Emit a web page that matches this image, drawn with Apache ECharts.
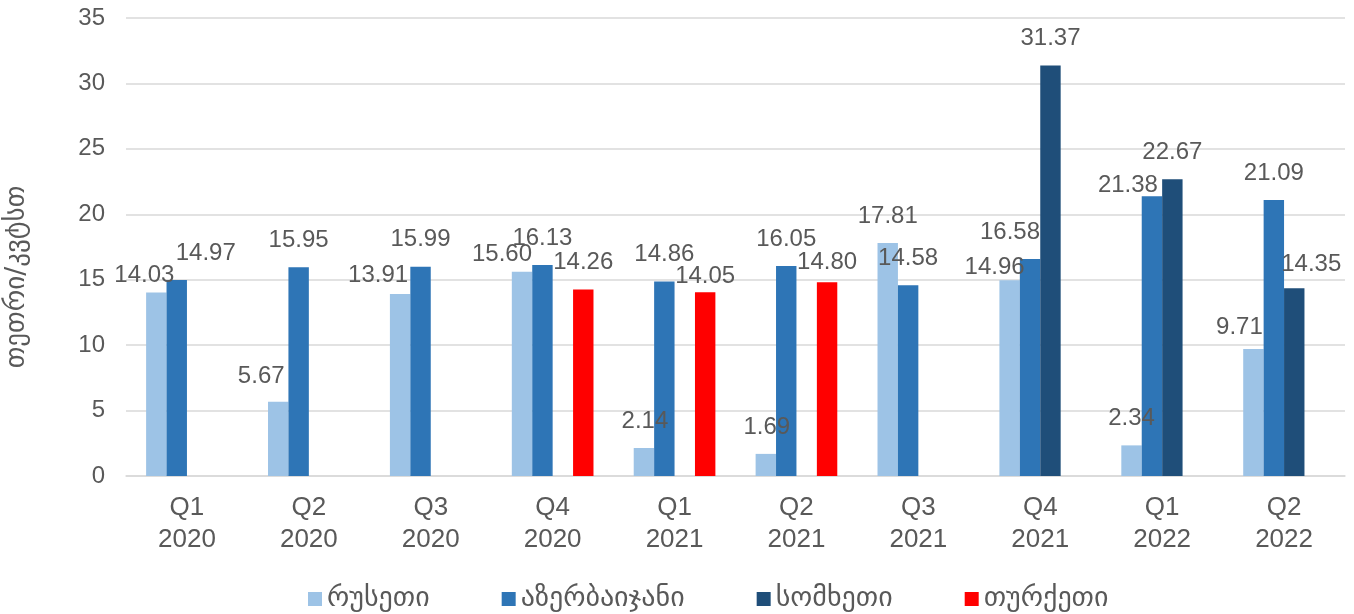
<!DOCTYPE html>
<html>
<head>
<meta charset="utf-8">
<script src="https://cdn.jsdelivr.net/npm/echarts@6/dist/echarts.min.js"></script>
<style>
html,body{margin:0;padding:0;background:#fff;}
#chart{width:1354px;height:614px;}
</style>
</head>
<body>
<div id="chart"></div>
<script>
const categories = ['Q1\n2020','Q2\n2020','Q3\n2020','Q4\n2020','Q1\n2021','Q2\n2021','Q3\n2021','Q4\n2021','Q1\n2022','Q2\n2022'];
const seriesNames = ['რუსეთი','აზერბაიჯანი','სომხეთი','თურქეთი'];
const russia     = [14.03, 5.67, 13.91, 15.60, 2.14, 1.69, 17.81, 14.96, 2.34, 9.71];
const azerbaijan = [14.97, 15.95, 15.99, 16.13, 14.86, 16.05, 14.58, 16.58, 21.38, 21.09];
const armenia    = [null, null, null, null, null, null, null, 31.37, 22.67, 14.35];
const turkey     = [null, null, null, 14.26, 14.05, 14.80, null, null, null, null];
const yTicks = [0, 5, 10, 15, 20, 25, 30, 35];
const yAxisTitle = 'თეთრი/კვტსთ';

// manual label nudges (as in the source chart), [dx, dy] by category index
const labelNudges = [
  {0:[-12,10],1:[-17,2],2:[-22,8],3:[-20,10],4:[1,0],5:[1,0],7:[-15,14],9:[-14,5]},
  {0:[29,0],7:[-20,0],8:[-24,16]},
  {9:[17,3]},
  {4:[0,11],5:[0,7]}
];
const colors = ['#9DC3E6','#2E75B6','#1F4E79','#FF0000'];
const FONT = '"Liberation Sans", Arial, "DejaVu Sans", sans-serif';
const GEO_FONT = '"DejaVu Sans", sans-serif';
const TXT = '#595959';

function build(values, idx){
  return values.map((v,i)=>{
    const n = labelNudges[idx][i];
    if (v === null) return null;
    return n ? {value:v, label:{offset:n}} : v;
  });
}
const allValues = [russia, azerbaijan, armenia, turkey];

const chart = echarts.init(document.getElementById('chart'), null, {renderer:'canvas'});
chart.setOption({
  animation:false,
  backgroundColor:'#fff',
  textStyle:{fontFamily:FONT},
  grid:{left:126, right:9, top:18, bottom:138, containLabel:false, outerBoundsMode:'none'},
  legend:{
    data:seriesNames, top:580, left:303,
    itemWidth:14, itemHeight:14, itemGap:72,
    icon:'rect',
    textStyle:{fontFamily:GEO_FONT, fontSize:28, color:TXT}
  },
  xAxis:{
    type:'category', data:categories,
    axisLine:{lineStyle:{color:'#D9D9D9', width:1.5}},
    axisTick:{show:false},
    axisLabel:{color:TXT, fontSize:26, lineHeight:32, margin:16, fontFamily:FONT, interval:0}
  },
  yAxis:{
    type:'value', min:yTicks[0], max:yTicks[yTicks.length-1], interval:5,
    name:yAxisTitle, nameLocation:'middle', nameGap:96, nameRotate:90,
    nameTextStyle:{color:TXT, fontSize:27, fontFamily:GEO_FONT, padding:[0,60,0,0]},
    axisLine:{show:false}, axisTick:{show:false},
    axisLabel:{color:TXT, fontSize:24, margin:21, fontFamily:FONT},
    splitLine:{lineStyle:{color:'#D9D9D9', width:1.5}}
  },
  series: seriesNames.map((name, idx)=>({
    name, type:'bar',
    data: build(allValues[idx], idx),
    itemStyle:{color:colors[idx]},
    barGap:'0%', barCategoryGap:'33%',
    label:{
      show:true, position:'top', distance:15,
      color:TXT, fontSize:24, fontFamily:FONT,
      formatter:p=>(p.value==null?'':Number(p.value).toFixed(2))
    }
  }))
});
</script>
</body>
</html>
